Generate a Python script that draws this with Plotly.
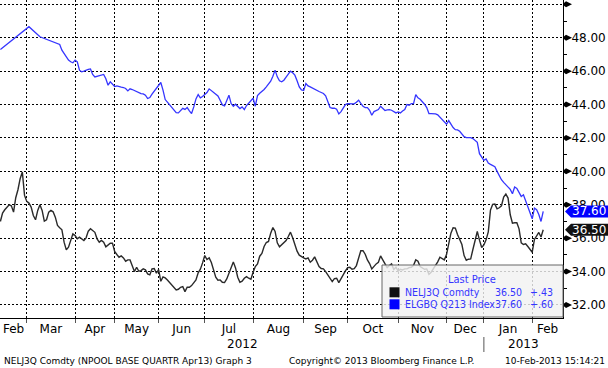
import numpy as np
import pandas as pd
import plotly.graph_objects as go

# ---------------- data ----------------
holidays = ["2012-04-05", "2012-04-06", "2012-04-09", "2012-05-01", "2012-05-17",
            "2012-05-28", "2012-12-24", "2012-12-25", "2012-12-26", "2012-12-31",
            "2013-01-01"]
first_day = "2012-02-14"
last_day = "2013-02-08"
axis_end_day = "2013-02-21"

nelj3q_name = "NELJ3Q Comdty"
nelj3q = [
    37.0, 37.5, 37.7, 37.86, 38.0, 37.94, 37.56, 38.42, 38.9, 39.56,
    39.96, 38.56, 38.2, 38.1, 37.86, 37.36, 37.1, 37.66, 38.0, 37.66,
    37.02, 37.1, 37.56, 37.66, 37.58, 37.26, 36.76, 36.62, 36.5, 35.76,
    35.3, 35.46, 35.86, 36.26, 36.16, 35.96, 36.06, 35.94, 35.86, 36.02,
    36.42, 36.56, 36.45, 36.35, 35.96, 35.76, 35.86, 35.76, 35.48, 35.6,
    35.7, 35.7, 35.2, 35.02, 34.86, 34.94, 34.82, 34.62, 34.7, 34.7,
    34.36, 34.0, 34.26, 34.02, 34.06, 34.16, 34.1, 33.86, 33.8, 34.16,
    34.18, 33.9, 34.12, 33.42, 33.68, 33.62, 33.5, 33.34, 33.16, 33.0,
    32.9, 32.94, 33.06, 33.1, 32.8, 33.06, 33.06, 33.16, 33.34, 33.5,
    33.92, 34.14, 34.52, 34.96, 34.72, 34.82, 34.54, 34.14, 33.66, 33.48,
    33.5, 33.36, 33.34, 33.56, 33.92, 34.26, 34.58, 34.22, 33.66, 33.36,
    33.42, 33.6, 33.7, 33.6, 33.54, 33.96, 34.3, 34.46, 34.92, 35.08,
    35.5, 35.74, 35.8, 36.3, 36.64, 36.4, 35.72, 35.48, 35.62, 35.74,
    35.86, 36.1, 36.36, 36.02, 35.6, 35.22, 34.98, 34.88, 34.82, 34.76,
    34.82, 34.56, 34.68, 34.88, 34.54, 34.3, 34.18, 34.16, 34.0, 33.8,
    33.56, 33.4, 33.58, 33.6, 33.34, 33.6, 33.84, 34.04, 34.24, 34.26,
    34.14, 34.18, 34.36, 34.84, 35.25, 35.25, 35.04, 34.7, 34.48, 34.16,
    34.32, 34.46, 34.56, 34.94, 34.7, 34.46, 34.24, 34.36, 34.46, 34.12,
    34.26, 34.02, 34.14, 34.1, 34.16, 34.16, 34.24, 34.26, 34.38, 34.7,
    34.62, 34.3, 34.22, 34.14, 34.16, 33.84, 33.96, 34.16, 34.36, 34.58,
    34.86, 34.8, 34.7, 35.02, 35.58, 36.3, 36.62, 36.6, 36.22, 35.86,
    35.62, 34.96, 34.68, 34.74, 34.76, 35.32, 35.78, 36.4, 35.88, 35.44,
    35.6, 35.9, 36.38, 37.68, 38.02, 38.04, 37.76, 37.82, 37.94, 38.46,
    38.64, 38.4, 37.4, 36.9, 36.92, 36.92, 36.56, 35.72, 35.62, 35.66,
    35.5, 35.35, 35.16, 35.92, 36.14, 36.34, 36.07, 36.5,
]

elgbq_name = "ELGBQ Q213 Index"
N = None
elgbq = [
    47.3, N, N, N, N, N, N, N, N, N,
    N, N, N, 48.66, N, N, N, N, 48.06, N,
    N, N, N, N, N, N, N, 47.6, 47.26, 47.06,
    46.86, 46.66, 46.56, 46.5, 46.66, 46.56, 46.06, 45.96, 46.0, 46.06,
    46.1, 46.13, 45.8, 45.65, 45.68, 45.72, 45.76, 45.8, 45.54, 45.16,
    45.36, 45.22, 45.08, 45.12, 45.06, 45.04, 45.02, 44.96, 44.82, 44.94,
    44.9, 44.84, 44.76, 44.72, 44.66, 44.64, 44.56, 44.36, 44.42, 44.62,
    44.78, 44.96, 45.12, 45.32, 44.86, 44.3, 44.14, 44.0, 43.86, 43.68,
    43.52, 43.5, 43.66, 43.77, 43.71, 43.82, 43.62, 43.46, 43.86, 44.34,
    44.6, 44.4, 44.48, 44.6, 44.72, 44.94, 44.84, 44.76, 44.66, 44.52,
    44.26, 43.98, 43.92, 44.26, 44.56, 44.06, 43.9, 44.02, 43.86, 43.76,
    43.86, 43.7, 43.94, 44.08, 44.22, 44.38, 43.9, 44.54, 44.68, 44.78,
    44.9, 45.06, 45.22, 45.4, 45.7, 46.06, 45.66, 45.42, 45.36, 45.46,
    45.64, 45.82, 46.0, 45.9, 45.76, 45.42, 45.06, 44.88, 44.84, 45.26,
    45.12, 45.06, 44.98, 44.92, 44.86, 44.78, 44.72, 44.66, 44.52, 44.18,
    43.82, 43.78, 43.78, 43.72, 43.44, 43.58, 43.8, 44.0, 44.06, 44.06,
    44.06, 44.04, 44.14, 44.26, 44.07, 43.9, 43.82, 43.82, 43.66, 43.36,
    43.58, 43.64, 43.7, 43.9, 43.74, 43.64, 43.68, 43.7, 43.66, 43.6,
    43.5, 43.56, 43.5, 43.62, 43.7, 44.0, 43.96, 44.06, 44.06, 44.6,
    44.4, 44.32, 44.2, 44.02, 43.82, 43.46, 43.46, 43.46, 43.44, 43.38,
    43.24, 43.14, 42.96, 42.82, 43.04, 42.8, 42.62, 42.5, 42.48, 42.4,
    42.26, 42.08, 42.02, 42.02, 42.02, 41.96, 41.84, 41.74, 41.06, 40.82,
    40.66, 40.74, 40.5, 40.42, 40.36, 40.28, 40.0, 39.7, 39.5, 39.34,
    39.2, 39.06, 38.92, 38.66, 39.06, 38.98, 38.74, 38.5, 38.6, 38.26,
    37.94, 37.5, 37.16, 37.8, 37.7, 37.42, 37.0, 37.6,
]

y_ticks = [32, 34, 36, 38, 40, 42, 44, 46, 48, 50]
y_minor_ticks = [33, 35, 37, 39, 41, 43, 45, 47, 49]

footer_left = "NELJ3Q Comdty (NPOOL BASE QUARTR Apr13) Graph 3"
footer_mid = "Copyright\u00a9 2013 Bloomberg Finance L.P."
footer_right = "10-Feb-2013 15:14:21"

# ---------------- layout constants ----------------
W, H = 608, 368
ML, MR, MT, MB = 0, 45, 0, 50
PW, PH = W - ML - MR, H - MT - MB
Y_RANGE = [31.22, 50.26]
BLUE = "#3535ff"
BLACK = "#2a2a2a"
FONT = "DejaVu Sans"
LEG_FONT = "DejaVu Sans Condensed, Liberation Sans, sans-serif"


def px_x(px):
    return (px - ML) / PW


def px_y(py):
    return (H - MB - py) / PH


def px_dy(n):
    return n * (Y_RANGE[1] - Y_RANGE[0]) / PH


trade_days = pd.bdate_range(first_day, last_day, freq="C", holidays=holidays)
axis_days = pd.bdate_range(first_day, axis_end_day, freq="C", holidays=holidays)
assert len(trade_days) == len(nelj3q) == len(elgbq), (len(trade_days), len(nelj3q), len(elgbq))


def idx_date(c):
    k = int(np.floor(c))
    k = min(k, len(axis_days) - 1)
    return (axis_days[k] + pd.Timedelta(days=c - k)).strftime("%Y-%m-%d %H:%M:%S")


month_starts = [i for i in range(1, len(axis_days)) if axis_days[i].month != axis_days[i - 1].month]
bounds = [0] + month_starts + [len(axis_days) - 1]
label_vals, label_text = [], []
for a, b in zip(bounds[:-1], bounds[1:]):
    label_vals.append(idx_date((a + b) / 2))
    label_text.append(axis_days[a].strftime("%b"))
grid_vals = [idx_date(i) for i in month_starts]
year_idx = [i for i in range(1, len(axis_days)) if axis_days[i].year != axis_days[i - 1].year][0]

x = [d.strftime("%Y-%m-%d") for d in trade_days]

fig = go.Figure()
fig.add_trace(go.Scatter(x=x, y=nelj3q, mode="lines", line=dict(color=BLACK, width=1.4),
                         name=nelj3q_name, showlegend=False))
fig.add_trace(go.Scatter(x=x, y=elgbq, mode="lines", line=dict(color=BLUE, width=1.3),
                         connectgaps=True, name=elgbq_name, showlegend=False))

shapes = []
annotations = []

# right-axis arrow ticks
for v in y_ticks:
    h = px_dy(3)
    shapes.append(dict(type="path", xref="paper", yref="y",
                       path=f"M {px_x(563)},{v + px_dy(0.6)} L {px_x(566)},{v + h} L {px_x(572)},{v} "
                            f"L {px_x(566)},{v - h} L {px_x(563)},{v - px_dy(0.6)} Z",
                       fillcolor="black", line=dict(width=0), layer="above"))

# last-price tags
for val, col in [(elgbq[-1], "#0000ff"), (nelj3q[-1], "#111111")]:
    h = px_dy(6)
    shapes.append(dict(type="path", xref="paper", yref="y",
                       path=f"M {px_x(565)},{val} L {px_x(571)},{val + h} L {px_x(608)},{val + h} "
                            f"L {px_x(608)},{val - h} L {px_x(571)},{val - h} Z",
                       fillcolor=col, line=dict(width=0), layer="above"))
    annotations.append(dict(xref="paper", yref="y", x=px_x(589), y=val, text=f"{val:.2f}",
                            showarrow=False, xanchor="center", yanchor="middle",
                            font=dict(family=FONT, size=12, color="white")))

# legend box
shapes.append(dict(type="rect", xref="paper", yref="paper", x0=px_x(382), x1=px_x(563),
                   y0=px_y(317), y1=px_y(265), fillcolor="rgba(242,242,242,0.82)",
                   line=dict(color="#666666", width=1), layer="above"))
annotations.append(dict(xref="paper", yref="paper", x=px_x(472), y=px_y(279), text="Last Price",
                        showarrow=False, xanchor="center", yanchor="middle",
                        font=dict(family=LEG_FONT, size=11, color=BLUE)))
for row, (name, ser, col) in enumerate([(nelj3q_name, nelj3q, "#111111"), (elgbq_name, elgbq, "#0000ff")]):
    cy = 292.3 + 12 * row
    shapes.append(dict(type="rect", xref="paper", yref="paper", x0=px_x(389.5), x1=px_x(399.5),
                       y0=px_y(cy + 5), y1=px_y(cy - 5), fillcolor=col, line=dict(width=0), layer="above"))
    chg = ser[-1] - ser[-2]
    chg_txt = f"{chg:+.2f}".replace("0.", ".")
    for txt, xx, anchor in [(name, 403, "left"), (f"{ser[-1]:.2f}", 524, "right"), (chg_txt, 555, "right")]:
        annotations.append(dict(xref="paper", yref="paper", x=px_x(xx), y=px_y(cy), text=txt,
                                showarrow=False, xanchor=anchor, yanchor="middle",
                                font=dict(family=LEG_FONT, size=10.5, color=BLUE)))

# year labels and separator
annotations.append(dict(xref="x", yref="paper", x=idx_date(year_idx / 2), y=px_y(344), text="2012",
                        showarrow=False, xanchor="center", yanchor="middle",
                        font=dict(family=FONT, size=12, color="black")))
annotations.append(dict(xref="x", yref="paper", x=idx_date((year_idx + len(axis_days) - 1) / 2),
                        y=px_y(344), text="2013", showarrow=False, xanchor="center", yanchor="middle",
                        font=dict(family=FONT, size=12, color="black")))
shapes.append(dict(type="line", xref="x", yref="paper", x0=idx_date(year_idx), x1=idx_date(year_idx),
                   y0=px_y(337), y1=px_y(352), line=dict(color="#555555", width=1)))

# footer
for txt, xx, anchor in [(footer_left, 2, "left"), (footer_mid, 287, "left"), (footer_right, 607, "right")]:
    annotations.append(dict(xref="paper", yref="paper", x=px_x(xx), y=px_y(361), text=txt,
                            showarrow=False, xanchor=anchor, yanchor="middle",
                            font=dict(family=FONT, size=9, color="black")))

start_range = (axis_days[0] - pd.Timedelta(hours=4)).strftime("%Y-%m-%d %H:%M:%S")
end_range = axis_days[-1].strftime("%Y-%m-%d %H:%M:%S")

fig.update_layout(
    width=W, height=H, margin=dict(l=ML, r=MR, t=MT, b=MB),
    paper_bgcolor="white", plot_bgcolor="white",
    font=dict(family=FONT, size=12, color="black"),
    showlegend=False,
    shapes=shapes, annotations=annotations,
    xaxis=dict(
        type="date", range=[start_range, end_range],
        rangebreaks=[dict(bounds=["sat", "mon"]), dict(values=holidays)],
        tickmode="array", tickvals=label_vals, ticktext=label_text,
        ticks="", showgrid=False, zeroline=False,
        showline=True, linecolor="black", linewidth=1,
        tickfont=dict(family=FONT, size=12, color="black"),
        minor=dict(tickmode="array", tickvals=grid_vals, showgrid=True, gridcolor="black",
                   griddash="2px,2px", gridwidth=1, ticks="outside", ticklen=4, tickcolor="#555555"),
    ),
    yaxis=dict(
        side="right", range=Y_RANGE, tickmode="array", tickvals=y_ticks,
        ticktext=[f"{v:.2f}" if v < 50 else "" for v in y_ticks],
        showgrid=True, gridcolor="black", griddash="2px,2px", gridwidth=1,
        zeroline=False, showline=True, linecolor="black", linewidth=1,
        ticks="", ticklabelstandoff=5,
        tickfont=dict(family=FONT, size=12, color="black"),
        minor=dict(tickmode="array", tickvals=y_minor_ticks, ticks="outside", ticklen=3,
                   tickcolor="black", showgrid=False),
    ),
)

fig.write_html("out.html", config=dict(displayModeBar=False, staticPlot=True),
               post_script="document.body.style.margin='0';document.body.style.overflow='hidden';")
